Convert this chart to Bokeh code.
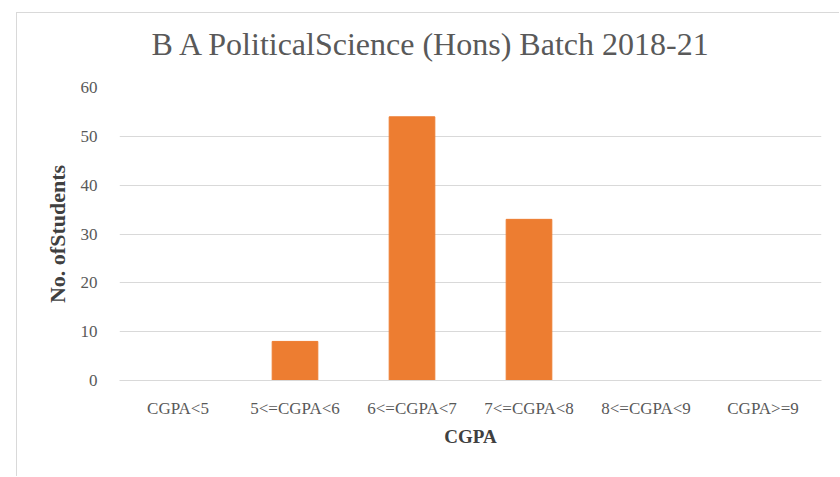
from bokeh.plotting import figure
from bokeh.models import Range1d, FactorRange, Div
from bokeh.layouts import column
from bokeh.embed import file_html
from bokeh.resources import INLINE

categories = ["CGPA<5", "5<=CGPA<6", "6<=CGPA<7", "7<=CGPA<8", "8<=CGPA<9", "CGPA>=9"]
students = [0, 8, 54, 33, 0, 0]
y_ticks = [0, 10, 20, 30, 40, 50, 60]
title_text = "B A PoliticalScience (Hons) Batch 2018-21"

FONT = "Liberation Serif"
GREY = "#595959"

title_div = Div(
    text=f'<div style="box-sizing:border-box;width:822px;text-align:center;'
         f'padding-top:9px;padding-left:4px;'
         f'font-family:\'Liberation Serif\';font-size:32px;color:{GREY};'
         f'white-space:nowrap;">{title_text}</div>',
    width=822, height=64, margin=0)

p = figure(x_range=FactorRange(*categories, range_padding=0), y_range=Range1d(0, 60),
           width=822, height=399, output_backend="svg", toolbar_location=None,
           min_border_left=102, min_border_right=18, min_border_top=10, min_border_bottom=96)

p.vbar(x=categories, top=students, width=0.39, color="#ED7D31")

p.outline_line_color = None
p.xgrid.grid_line_color = None
p.ygrid.grid_line_color = "#d9d9d9"
p.ygrid.ticker = y_ticks
p.yaxis.ticker = y_ticks

for ax in (p.xaxis[0], p.yaxis[0]):
    ax.major_tick_line_color = None
    ax.minor_tick_line_color = None
    ax.major_label_text_font = FONT
    ax.major_label_text_font_size = "17px"
    ax.major_label_text_color = GREY
    ax.axis_label_text_font = FONT
    ax.axis_label_text_color = "#404040"
    ax.axis_label_text_font_style = "bold"

p.xaxis.axis_label_text_font_size = "19px"
p.yaxis.axis_label_text_font_size = "22px"
p.yaxis.axis_line_color = None
p.xaxis.axis_line_color = "#d9d9d9"
p.xaxis.major_label_standoff = 12
p.yaxis.major_label_standoff = 16
p.xaxis.axis_label = "CGPA"
p.yaxis.axis_label = "No. ofStudents"
p.xaxis.axis_label_standoff = 5
p.yaxis.axis_label_standoff = 8

layout = column(title_div, p, spacing=0,
                styles={"margin-left": "16px", "margin-top": "12px",
                        "border-left": "1px solid #d9d9d9", "border-top": "1px solid #d9d9d9"})

open("out.html", "w").write(file_html(layout, INLINE))
